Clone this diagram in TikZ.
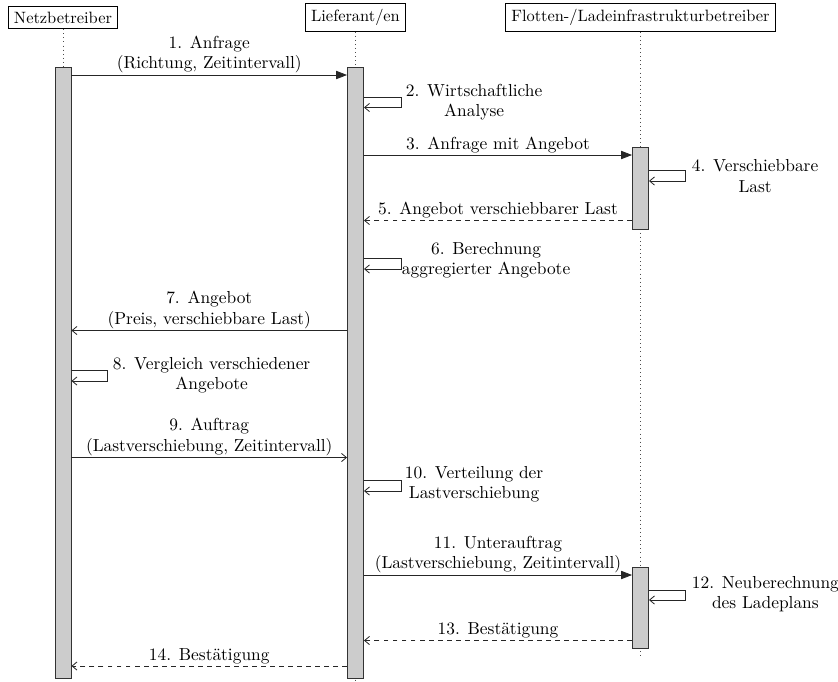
\documentclass[tikz,border=0pt]{standalone}
\usetikzlibrary{arrows.meta}
\begin{document}
\begin{tikzpicture}[x=0.02143cm,y=-0.02143cm,
  actor/.style={draw,rectangle,inner sep=3.33pt,line width=0.5pt},
  life/.style={dotted,black!70,line width=0.5pt},
  bar/.style={draw=black!80,line width=0.55pt,fill=black!20,minimum width=0.343cm,inner sep=0pt},
  call/.style={-{Triangle[length=6.6pt,width=5pt]},line width=0.5pt,black!85},
  msg/.style={-{Straight Barb[length=3pt,width=5pt]},line width=0.5pt,black!85},
  ret/.style={-{Straight Barb[length=3pt,width=5pt]},dashed,dash pattern=on 3pt off 2.5pt,line width=0.5pt,black!85},
  selfc/.style={-{Straight Barb[length=3pt,width=5pt]},line width=0.5pt,black!85},
  lbl/.style={align=center,inner sep=1pt,text=black,font=\fontsize{10.6}{12.4}\selectfont}]
\useasboundingbox (0,0) rectangle (838,681);
% actors
\node[actor] (nb) at (63,17.5) {Netzbetreiber};
\node[actor] (lf) at (355.5,17.5) {Lieferant/en};
\node[actor] (fl) at (640.5,17.5) {Flotten-/Ladeinfrastrukturbetreiber};
% lifelines
\coordinate (nbEnd) at (63,681);
\coordinate (lfEnd) at (355.5,681);
\coordinate (flEnd) at (640.5,657);
\draw[life] (nb.south) -- (nbEnd);
\draw[life] (lf.south) -- (lfEnd);
\draw[life] (fl.south) -- (flEnd);
% activation bars
\node[bar,minimum height={611*0.02143cm}] (nbA) at (63,372.5) {};
\node[bar,minimum height={611*0.02143cm}] (lfA) at (355.5,372.5) {};
\node[bar,minimum height={82*0.02143cm}] (flA) at (640.5,188) {};
\node[bar,minimum height={81*0.02143cm}] (flB) at (640.5,607.5) {};
% 1
\draw[call] (nbA.east |- 0,75) -- (lfA.west |- 0,75)
  node[midway,above,lbl] {1. Anfrage\\(Richtung, Zeitintervall)};
% 2
\draw[selfc] (lfA.east |- 0,97) -- ++(37,0) |- (lfA.east |- 0,107.5);
\node[lbl,anchor=west] (l2) at (404,102) {2. Wirtschaftliche\\Analyse};
% 3
\draw[call] (lfA.east |- 0,155) -- (flA.west |- 0,155)
  node[midway,above,lbl] {3. Anfrage mit Angebot};
% 4
\draw[selfc] (flA.east |- 0,170) -- ++(36,0) |- (flA.east |- 0,181);
\node[lbl,anchor=west] (l4) at (690,176) {4. Verschiebbare\\Last};
% 5
\draw[ret] (flA.west |- 0,220.5) -- (lfA.east |- 0,220.5)
  node[midway,above,lbl] {5. Angebot verschiebbarer Last};
% 6
\draw[selfc] (lfA.east |- 0,258) -- ++(37,0) |- (lfA.east |- 0,269);
\node[lbl,anchor=west] (l6) at (400,260) {6. Berechnung\\aggregierter Angebote};
% 7
\draw[msg] (lfA.west |- 0,330.5) -- (nbA.east |- 0,330.5)
  node[midway,above,lbl] {7. Angebot\\(Preis, verschiebbare Last)};
% 8
\draw[selfc] (nbA.east |- 0,370) -- ++(36,0) |- (nbA.east |- 0,381);
\node[lbl,anchor=west] (l8) at (111,375) {8. Vergleich verschiedener\\Angebote};
% 9
\draw[msg] (nbA.east |- 0,457.5) -- (lfA.west |- 0,457.5)
  node[midway,above,lbl] {9. Auftrag\\(Lastverschiebung, Zeitintervall)};
% 10
\draw[selfc] (lfA.east |- 0,480) -- ++(37,0) |- (lfA.east |- 0,491);
\node[lbl,anchor=west] (l10) at (403,484) {10. Verteilung der\\Lastverschiebung};
% 11
\draw[call] (lfA.east |- 0,575) -- (flB.west |- 0,575)
  node[midway,above,lbl] {11. Unterauftrag\\(Lastverschiebung, Zeitintervall)};
% 12
\draw[selfc] (flB.east |- 0,590) -- ++(36,0) |- (flB.east |- 0,600);
\node[lbl,anchor=west] (l12) at (690,594) {12. Neuberechnung\\des Ladeplans};
% 13
\draw[ret] (flB.west |- 0,640.5) -- (lfA.east |- 0,640.5)
  node[midway,above,lbl] {13. Bestätigung};
% 14
\draw[ret] (lfA.west |- 0,666) -- (nbA.east |- 0,666)
  node[midway,above,lbl] {14. Bestätigung};
\end{tikzpicture}
\end{document}
